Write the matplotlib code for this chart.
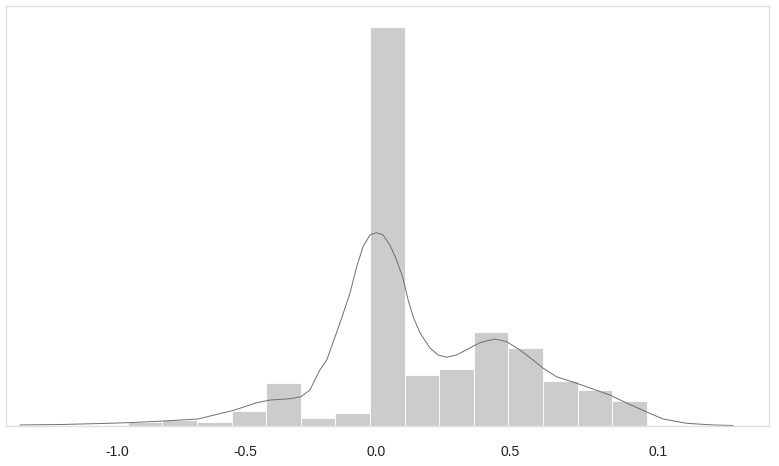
import numpy as np
import matplotlib.pyplot as plt

# histogram bins (width 0.125) and bar heights (density)
bin_edges = [-0.875, -0.75, -0.625, -0.5, -0.375, -0.25, -0.125, 0.0,
             0.125, 0.25, 0.375, 0.5, 0.625, 0.75, 0.875, 1.0]
bar_heights = [0.032, 0.051, 0.032, 0.133, 0.391, 0.069, 0.115, 3.662,
               0.464, 0.519, 0.859, 0.712, 0.409, 0.326, 0.225]

# density curve
kde_x = [-1.264, -1.120, -0.975, -0.871, -0.748, -0.621, -0.495, -0.408,
         -0.361, -0.289, -0.249, -0.217, -0.181, -0.156, -0.102, -0.072,
         -0.048, -0.025, 0.000, 0.024, 0.047, 0.072, 0.096, 0.119, 0.138,
         0.156, 0.181, 0.217, 0.246, 0.277, 0.313, 0.361, 0.397, 0.452,
         0.494, 0.542, 0.589, 0.625, 0.674, 0.747, 0.806, 0.867, 0.927,
         1.000, 1.059, 1.144, 1.239, 1.311]
kde_y = [0.005, 0.009, 0.018, 0.026, 0.041, 0.060, 0.138, 0.210,
         0.234, 0.246, 0.265, 0.326, 0.510, 0.602, 0.988, 1.218,
         1.459, 1.643, 1.751, 1.772, 1.751, 1.659, 1.521, 1.356, 1.153,
         1.000, 0.850, 0.712, 0.648, 0.627, 0.648, 0.712, 0.761, 0.795,
         0.770, 0.694, 0.602, 0.528, 0.448, 0.388, 0.335, 0.280, 0.207,
         0.124, 0.060, 0.020, 0.005, 0.0]

# x tick labels as shown (positions as they appear)
tick_pos = [-0.914, -0.452, 0.022, 0.506, 1.040]
tick_labels = ["-1.0", "-0.5", "0.0", "0.5", "0.1"]

plt.rcParams['font.family'] = ['Liberation Sans', 'DejaVu Sans']

fig = plt.figure(figsize=(7.79, 4.66), dpi=100)
ax = fig.add_axes([6 / 779, 40.5 / 466, 762.5 / 779, 419.5 / 466])

edges = np.array(bin_edges)
ax.bar(edges[:-1], bar_heights, width=np.diff(edges), align="edge",
       color="#cccccc", edgecolor="white", linewidth=0.6)
ax.plot(kde_x, kde_y, color="#6e6e6e", linewidth=0.7)

ax.set_xlim(-1.315, 1.440)
ax.set_ylim(0, 3.855)
ax.set_yticks([])
ax.set_xticks(tick_pos)
ax.set_xticklabels(tick_labels)
ax.tick_params(axis="x", length=0, pad=14, labelsize=10, labelcolor="#222222")
for s in ax.spines.values():
    s.set_color("#e0e0e0")
    s.set_linewidth(1)

fig.savefig("out.png", dpi=100)
